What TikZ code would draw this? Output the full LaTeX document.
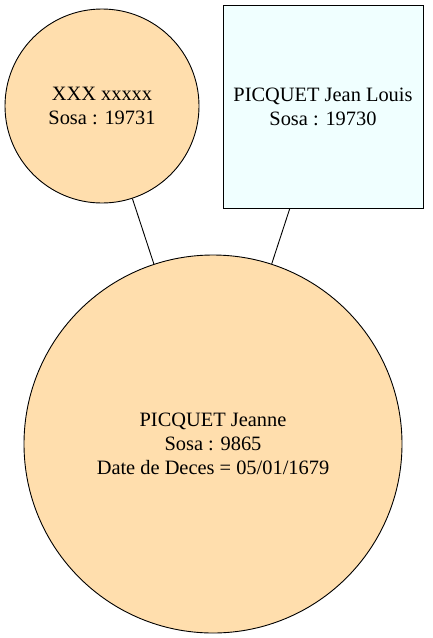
\documentclass[tikz,border=0pt]{standalone}
\usepackage{fontspec}
\setmainfont{Liberation Serif}
\definecolor{peach}{HTML}{FFDEAD}
\definecolor{azurefill}{HTML}{F0FFFF}
\begin{document}
\begin{tikzpicture}[x=1pt,y=-1pt,
  person/.style={draw=black,line width=0.9pt,inner sep=0pt,align=center,
    font=\fontsize{20.4}{24}\selectfont},
  female/.style={person,circle,fill=peach},
  male/.style={person,rectangle,fill=azurefill},
  link/.style={draw=black,line width=0.9pt}]
\useasboundingbox (0,0) rectangle (432,638);
\node[female,minimum size=194pt] (mother) at (102,106) {XXX xxxxx\\Sosa : 19731};
\node[male,minimum width=200pt,minimum height=203pt] (father) at (323,106.5) {PICQUET Jean Louis\\Sosa : 19730};
\node[female,minimum size=378pt] (child) at (213,444) {PICQUET Jeanne\\Sosa : 9865\\Date de Deces = 05/01/1679};
\draw[link] (mother) -- (child);
\draw[link] (father) -- (child);
\end{tikzpicture}
\end{document}
